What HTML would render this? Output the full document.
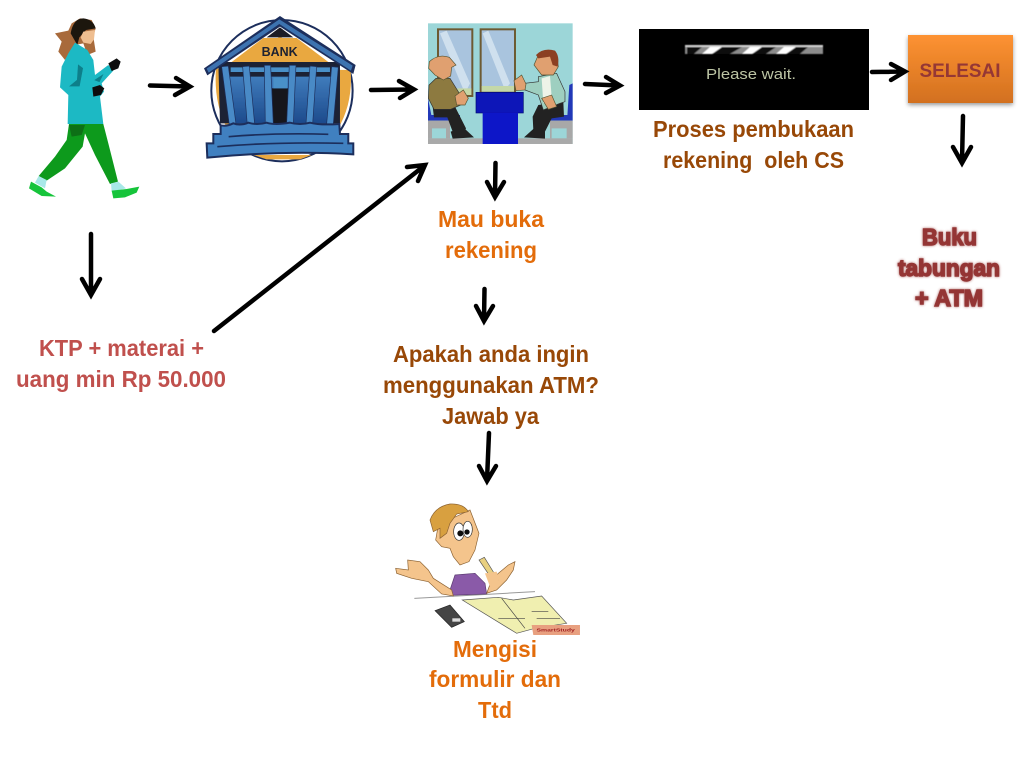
<!DOCTYPE html>
<html><head><meta charset="utf-8"><style>
html,body{margin:0;padding:0;background:#fff;width:1024px;height:768px;overflow:hidden}
svg{display:block}
text{font-family:"Liberation Sans",sans-serif;font-weight:bold;font-size:23px}
.a{fill:none;stroke:#000;stroke-width:4.500;stroke-linecap:round;stroke-linejoin:miter}
</style></head><body>
<svg width="1024" height="768" viewBox="0 0 1024 768" xmlns="http://www.w3.org/2000/svg">
<defs>
<linearGradient id="og" x1="0" y1="0" x2="0" y2="1"><stop offset="0" stop-color="#fd9232"/><stop offset="1" stop-color="#d2701f"/></linearGradient>
<linearGradient id="bl" x1="0" y1="0" x2="0" y2="1"><stop offset="0" stop-color="#3f7cbc"/><stop offset="1" stop-color="#1d4a8c"/></linearGradient>
<filter id="sh" x="-20%" y="-20%" width="140%" height="150%"><feDropShadow dx="0" dy="2" stdDeviation="2" flood-color="#000" flood-opacity=".4"/></filter>
<filter id="b"><feGaussianBlur stdDeviation="0.4"/></filter>
<filter id="g" x="-20%" y="-30%" width="140%" height="160%"><feGaussianBlur in="SourceAlpha" stdDeviation="1.200" result="x"/><feFlood flood-color="#943634" flood-opacity=".8"/><feComposite in2="x" operator="in"/><feMerge><feMergeNode/><feMergeNode in="SourceGraphic"/></feMerge></filter>
</defs>

<!-- woman -->
<g transform="scale(.3333)" filter="url(#b)">
<path fill="#a86a3a" d="M165 100L205 92 215 70 240 55 275 60 287 85 280 110 287 155 262 165 250 130 225 135 195 180 175 155 185 125Z"/>
<path fill="#1a1210" d="M212 100Q220 55 250 55 280 58 287 85L258 90 238 112 232 135Z"/>
<path fill="#efbe90" d="M250 95L285 90 282 118 272 132 250 128 242 112Z"/>
<path fill="#1fb9c4" d="M225 128L262 150 280 180 285 225 325 195 340 212 305 250 312 275 300 290 310 372 203 372 205 285 180 262 185 200 205 160Z"/>
<path fill="#0d7f8a" stroke="#0d7f8a" stroke-width="2" d="M235 195L248 205 238 258 210 258 232 240ZM285 240L308 225 298 245Z"/>
<path fill="#111" d="M325 190L350 175 362 185 355 205 335 213ZM277 262L300 255 313 265 303 285 280 290Z"/>
<path fill="#0f9a1f" d="M207 372L310 372 325 430 354 545 330 552 285 465 255 400 248 440 195 505 140 542 116 528 165 470 200 420Z"/>
<path fill="#0a7016" d="M207 375L255 375 245 405 215 410Z"/>
<path fill="#a8e8e8" d="M116 528L140 540 135 565 105 548ZM333 550L355 545 378 565 335 575Z"/>
<path fill="#17c43a" d="M93 545L125 562 140 575 168 590 125 588 87 565ZM335 572L380 567 418 560 410 578 375 592 340 595Z"/>
</g>

<!-- bank -->
<g transform="scale(.3333)" filter="url(#b)">
<circle cx="846" cy="272" r="212" fill="#fff" stroke="#1d2f5c" stroke-width="6"/>
<path fill="#e9a83f" d="M648 205L1052 210Q1060 320 1005 400L690 400Q640 320 648 205ZM700 190L840 110 985 190Z"/>
<path fill="#e9a83f" d="M760 465L935 465 900 478 800 478Z"/>
<path fill="#1b2136" d="M655 186H1020V370H660Z"/>
<path fill="url(#bl)" d="M690 230H1000V370H690Z"/>
<rect x="815" y="265" width="52" height="105" fill="#15151f"/>
<path fill="#4a90c8" d="M692 202H990V216H692ZM820 232H862V265H820Z"/>
<path fill="#1d2f5c" d="M612 205L840 48 1067 195 1060 222 840 80 622 226Z"/>
<path fill="#3e73b0" d="M620 206L838 58 1058 197 1053 212 838 72 626 218Z"/>
<path fill="#1a1a28" d="M800 112L840 82 880 112Z"/>
<path fill="#e9a83f" d="M695 186L790 114H890L985 186Z"/>
<text x="839" y="168" fill="#1d2030" text-anchor="middle" style="font-size:40px" textLength="108" lengthAdjust="spacingAndGlyphs">BANK</text>
<g fill="#4a8ac6" stroke="#1d2f5c" stroke-width="2">
<path d="M665 200L685 198 708 372 688 375Z"/>
<path d="M728 200L748 198 764 372 742 375Z"/>
<path d="M793 196L812 196 820 372 796 372Z"/>
<path d="M868 196L888 196 880 375 860 372Z"/>
<path d="M930 198L950 200 938 372 918 372Z"/>
<path d="M995 200L1015 202 1000 372 980 372Z"/>
</g>
<path fill="#3f80c0" stroke="#1d2f5c" stroke-width="6" d="M662 376Q680 380 700 370 720 378 745 368 770 376 800 368 825 376 870 368 900 376 930 368 960 376 1018 372L1020 402 1045 402 1045 430 1060 430 1060 463Q850 450 622 473L620 430 640 430 640 402 662 402Z"/>
<path stroke="#1d2f5c" stroke-width="5" fill="none" d="M686 410Q830 398 985 403M652 440Q830 425 1030 430"/>
</g>

<!-- bank teller image -->
<g transform="translate(410 10) scale(.3333)" filter="url(#b)">
<rect x="54" y="40" width="434" height="362" fill="#9cd6d8"/>
<rect x="84" y="58" width="103" height="200" fill="#a9c4de" stroke="#6d5a32" stroke-width="6"/>
<rect x="212" y="58" width="103" height="190" fill="#a9c4de" stroke="#6d5a32" stroke-width="6"/>
<path fill="#cfe0ee" d="M90 70L110 62 180 220 165 250ZM218 70L235 62 300 220 285 240Z"/>
<path fill="#c4d8a8" d="M87 235H184V255H87ZM215 228H312V245H215Z"/>
<rect x="54" y="385" width="434" height="17" fill="#a9a9a9"/>
<path fill="#2039b8" d="M54 315H150V332H54ZM410 315H488V332H410ZM54 265L64 315H54ZM478 225L488 220V320H472Z"/>
<path fill="#a8a8a8" d="M54 332H120V385H108V355H66V385H54ZM420 332H488V385H470V355H425V385H420Z"/>
<rect x="198" y="247" width="142" height="62" fill="#0a14b8" stroke="#050a70" stroke-width="2"/>
<rect x="218" y="308" width="106" height="94" fill="#0a14c8"/>
<!-- left man -->
<path fill="#222" d="M68 290H135L168 355 162 368 128 365 112 322H72Z"/>
<path fill="#222" d="M122 365L160 352 192 382 128 386Z"/>
<path fill="#8d7a3f" stroke="#333" stroke-width="2" d="M78 205L120 205 148 250 152 285 122 298 72 298 55 265 57 225Z"/>
<path fill="#e0a070" stroke="#553" stroke-width="2" d="M58 155Q85 130 118 142L138 165 125 172 122 198 100 210 75 195 56 175Z"/>
<path fill="#e0a070" stroke="#553" stroke-width="2" d="M135 258L160 240 175 265 165 285 140 285Z"/>
<!-- right man -->
<path fill="#222" d="M385 285L460 275 462 320 425 325 405 365 370 360 368 320Z"/>
<path fill="#222" d="M342 382L372 355 405 360 405 386Z"/>
<path fill="#9ecfc0" stroke="#333" stroke-width="2" d="M385 200L440 190 465 245 465 275 450 280 400 300 385 255 345 240 345 220 385 215Z"/>
<path fill="#eef3e8" d="M395 205L420 198 425 260 400 280Z"/>
<path fill="#e0a070" stroke="#553" stroke-width="2" d="M385 135L440 135 445 170 430 195 395 195 372 165Z"/>
<path fill="#8c3f20" d="M378 135Q400 112 435 122 450 140 443 170L428 165 420 140 385 145Z"/>
<path fill="#e0a070" stroke="#553" stroke-width="2" d="M312 212L335 195 348 222 345 240 318 242ZM395 265L425 255 440 290 415 298Z"/>
</g>

<!-- please wait -->
<rect x="639" y="29" width="230" height="81" fill="#000"/>
<g filter="url(#b)">
<rect x="685" y="45" width="138" height="9" fill="#8c8c8c"/>
<rect x="685" y="45" width="138" height="2" fill="#fff" opacity=".6"/>
<path fill="#111" d="M687 47H702L694 54H687ZM716 47H742L730 54H706ZM756 47H776L766 54H744ZM790 47H808L800 54H782Z"/>
<path fill="#fff" d="M702 54L710 47H722L712 54ZM742 54L750 47H762L752 54ZM776 54L784 47H796L786 54Z"/>
</g>
<text x="751" y="79" text-anchor="middle" fill="#bcc4a4" style="font-size:15px;font-weight:normal" textLength="90" lengthAdjust="spacingAndGlyphs">Please wait.</text>

<!-- selesai box -->
<rect x="908" y="35" width="105" height="68" fill="url(#og)" filter="url(#sh)"/>
<text x="960" y="77" text-anchor="middle" fill="#953735" style="font-size:19px" textLength="81" lengthAdjust="spacingAndGlyphs">SELESAI</text>

<!-- student -->
<g transform="translate(385 490) scale(.3333)" filter="url(#b)">
<path fill="none" stroke="#999" stroke-width="3" d="M88 325L450 305"/>
<path fill="#8a5aa8" stroke="#5a3a70" stroke-width="2" d="M210 255L270 250 300 280 305 312 195 316 195 300Z"/>
<path fill="#f4c48c" stroke="#8a6030" stroke-width="2" d="M32 235L70 240 68 210 105 215 130 240 145 265 200 300 205 318 170 312 130 275 80 265 35 250ZM320 270L340 250 370 225 390 215 385 240 365 270 335 300 305 310Z"/>
<path fill="#f4c48c" stroke="#8a6030" stroke-width="2" d="M160 105L255 60 282 130 270 180 252 215 225 225 205 200 195 175 170 170 152 150Z"/>
<path fill="#d8a040" stroke="#8a6030" stroke-width="2" d="M135 90Q150 50 195 42 235 40 250 65L215 72 195 100 185 130 165 145 165 115 145 125Z"/>
<ellipse cx="222" cy="125" rx="16" ry="26" fill="#fff" stroke="#333" stroke-width="2"/>
<ellipse cx="248" cy="118" rx="14" ry="24" fill="#fff" stroke="#333" stroke-width="2"/>
<circle cx="226" cy="130" r="9" fill="#111"/><circle cx="246" cy="126" r="8" fill="#111"/>
<path fill="#e8d080" stroke="#555" stroke-width="2" d="M282 210L298 202 340 270 328 278Z"/>
<path fill="#f4c48c" d="M300 250L335 245 345 285 315 290Z"/>
<path fill="#f0efb0" stroke="#555" stroke-width="2" d="M232 330L340 322 385 330 470 318 545 400 450 415 395 430Z"/>
<path fill="none" stroke="#444" stroke-width="2" d="M350 325L420 415M340 385H420M440 365H490M455 385H525"/>
<path fill="#444" stroke="#222" stroke-width="2" d="M150 362L195 345 238 395 200 412Z"/>
<rect x="202" y="385" width="24" height="10" fill="#ddd"/>
<path fill="#e8a080" d="M440 405H585V435H445Z"/>
<text x="512" y="425" text-anchor="middle" fill="#a02020" style="font-size:14px" textLength="115" lengthAdjust="spacingAndGlyphs">SmartStudy</text>
</g>

<!-- arrows -->
<g class="a">
<path d="M150 85.500L189 86.500M176 78L190 86.500 175 95"/>
<path d="M371 90L413 89.500M399 81L414 89.500 400 98"/>
<path d="M585 84L619 85.500M606 77L620 85.500 606 93"/>
<path d="M872 72L904 71.500M891 64L905 71.500 891 80"/>
<path d="M963 116L962 162M953 147L962 163 971 147"/>
<path d="M91 234L91 294M82 279L91 295 100 279"/>
<path d="M495.500 163L495 196M487 182L495 197 504 182"/>
<path d="M484.500 289L484 320M476 306L484 321 493 306"/>
<path d="M489 433L487 480M479 466L487 481 496 466"/>
<path d="M214 331L424 166M407 167L425 165 418 181"/>
</g>

<!-- labels -->
<g fill="#c0504d">
<text x="121.500" y="356" text-anchor="middle" textLength="165" lengthAdjust="spacingAndGlyphs">KTP + materai +</text>
<text x="121" y="387" text-anchor="middle" textLength="210" lengthAdjust="spacingAndGlyphs">uang min Rp 50.000</text>
</g>
<g fill="#e36c0a">
<text x="491" y="227" text-anchor="middle" textLength="106" lengthAdjust="spacingAndGlyphs">Mau buka</text>
<text x="491" y="258" text-anchor="middle" textLength="92" lengthAdjust="spacingAndGlyphs">rekening</text>
<text x="495" y="657" text-anchor="middle" textLength="84" lengthAdjust="spacingAndGlyphs">Mengisi</text>
<text x="495" y="687" text-anchor="middle" textLength="132" lengthAdjust="spacingAndGlyphs">formulir dan</text>
<text x="495" y="718" text-anchor="middle" textLength="34" lengthAdjust="spacingAndGlyphs">Ttd</text>
</g>
<g fill="#984807">
<text x="491" y="362" text-anchor="middle" textLength="196" lengthAdjust="spacingAndGlyphs">Apakah anda ingin</text>
<text x="491" y="393" text-anchor="middle" textLength="216" lengthAdjust="spacingAndGlyphs">menggunakan ATM?</text>
<text x="490.500" y="424" text-anchor="middle" textLength="97" lengthAdjust="spacingAndGlyphs">Jawab ya</text>
<text x="753.500" y="137" text-anchor="middle" textLength="201" lengthAdjust="spacingAndGlyphs">Proses pembukaan</text>
<text x="753.500" y="168" text-anchor="middle" textLength="181" lengthAdjust="spacingAndGlyphs" xml:space="preserve">rekening  oleh CS</text>
</g>
<g fill="#943634" stroke="#943634" stroke-width="1.400" filter="url(#g)">
<text x="949.500" y="245" text-anchor="middle" textLength="55" lengthAdjust="spacingAndGlyphs">Buku</text>
<text x="949" y="276" text-anchor="middle" textLength="102" lengthAdjust="spacingAndGlyphs">tabungan</text>
<text x="949" y="306" text-anchor="middle" textLength="68" lengthAdjust="spacingAndGlyphs">+ ATM</text>
</g>
</svg>
</body></html>
